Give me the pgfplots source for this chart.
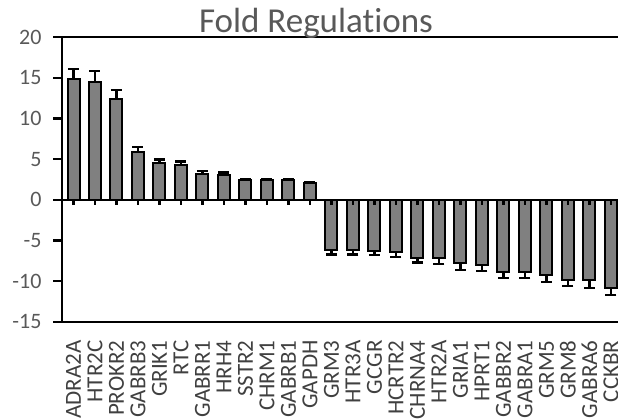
\documentclass[border=0pt]{standalone}
\usepackage{fontspec}
\setmainfont{Carlito}[Ligatures=NoCommon]
\usepackage{pgfplots}
\pgfplotsset{compat=1.18}
\definecolor{txtgray}{HTML}{595959}
\definecolor{lblgray}{HTML}{404040}
\definecolor{bargray}{HTML}{808080}
\begin{document}
\begin{tikzpicture}
\useasboundingbox (0,0) rectangle (618pt,419pt);
\clip (0,0) rectangle (618pt,419pt);
\begin{axis}[
  at={(62pt,97pt)}, anchor=south west,
  scale only axis, width=556pt, height=285pt,
  xmin=-0.535, xmax=25.33, ymin=-15, ymax=20,
  ybar,
  axis lines=left,
  axis line style={-, line width=2.8pt, black},
  tick align=outside,
  major tick length=9pt,
  ytick={-15,-10,-5,5,10,15},
  extra y ticks={0,20},
  extra y tick style={grid=major, major grid style={line width=2.6pt, black}},
  ytick style={line width=2.4pt, black},
  xtick={0,...,25},
  xtick style={draw=none},
  xticklabels={ADRA2A,HTR2C,PROKR2,GABRB3,GRIK1,RTC,GABRR1,HRH4,SSTR2,CHRM1,GABRB1,GAPDH,GRM3,HTR3A,GCGR,HCRTR2,CHRNA4,HTR2A,GRIA1,HPRT1,GABBR2,GABRA1,GRM5,GRM8,GABRA6,CCKBR},
  xticklabel style={rotate=90, anchor=east, xshift=-6pt, text=lblgray, font=\fontsize{23}{26}\selectfont},
  yticklabel style={xshift=-8pt, text=txtgray, font=\fontsize{22}{26}\selectfont},
  /pgf/number format/assume math mode=true,
  bar width=12pt,
]
\addplot[ybar, bar shift=0pt, fill=bargray, draw=black, line width=2pt,
  error bars/.cd, y dir=plus, y explicit,
  error bar style={line width=2.2pt, black},
  error mark options={rotate=90, mark size=5.5pt, line width=2.2pt, black}]
  coordinates {
  (0,14.8) +- (0,1.3)
  (1,14.5) +- (0,1.3)
  (2,12.4) +- (0,1.1)
  (3,5.85) +- (0,0.6)
  (4,4.5) +- (0,0.45)
  (5,4.3) +- (0,0.4)
  (6,3.2) +- (0,0.3)
  (7,3.1) +- (0,0.25)
  (8,2.45) +- (0,0.15)
  (9,2.45) +- (0,0.15)
  (10,2.45) +- (0,0.15)
  (11,2.1) +- (0,0.12)
  };
\addplot[ybar, bar shift=0pt, fill=bargray, draw=black, line width=2pt,
  error bars/.cd, y dir=minus, y explicit,
  error bar style={line width=2.2pt, black},
  error mark options={rotate=90, mark size=5.5pt, line width=2.2pt, black}]
  coordinates {
  (12,-6.2) +- (0,0.5)
  (13,-6.2) +- (0,0.5)
  (14,-6.3) +- (0,0.5)
  (15,-6.4) +- (0,0.6)
  (16,-7.1) +- (0,0.6)
  (17,-7.2) +- (0,0.7)
  (18,-7.8) +- (0,0.8)
  (19,-8.0) +- (0,0.7)
  (20,-8.8) +- (0,0.8)
  (21,-8.8) +- (0,0.8)
  (22,-9.2) +- (0,0.9)
  (23,-9.8) +- (0,0.8)
  (24,-9.9) +- (0,0.9)
  (25,-10.8) +- (0,0.9)
  };
\addplot[ycomb, black, line width=2.2pt, no marks] coordinates {
  (0,-0.6) (1,-0.6) (2,-0.6) (3,-0.6) (4,-0.6) (5,-0.6) (6,-0.6) (7,-0.6) (8,-0.6)
  (9,-0.6) (10,-0.6) (11,-0.6) (12,-0.6) (13,-0.6) (14,-0.6) (15,-0.6) (16,-0.6)
  (17,-0.6) (18,-0.6) (19,-0.6) (20,-0.6) (21,-0.6) (22,-0.6) (23,-0.6) (24,-0.6) (25,-0.6)
  };
\end{axis}
\node[anchor=base, text=txtgray, font=\fontsize{35}{40}\selectfont] at (316pt,386pt) {Fold Regulations};
\end{tikzpicture}
\end{document}
